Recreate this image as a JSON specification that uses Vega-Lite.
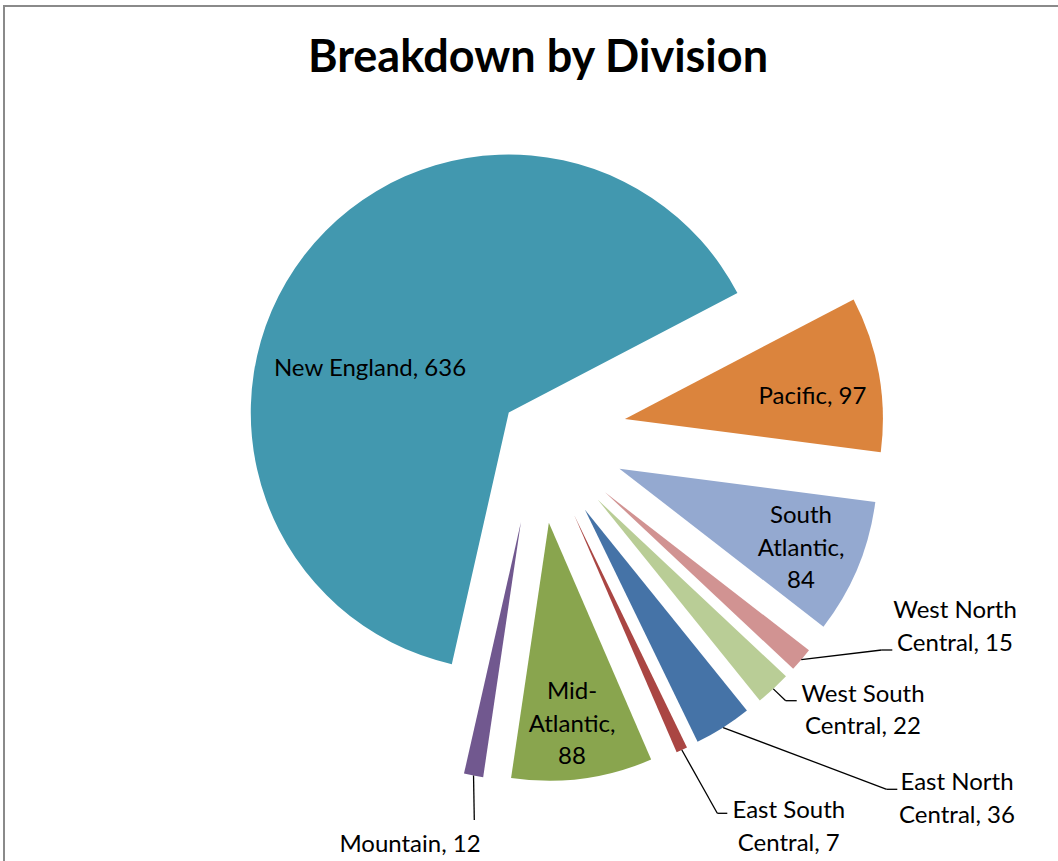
{
  "$schema": "https://vega.github.io/schema/vega-lite/v6.json",
  "width": 1060,
  "height": 860,
  "autosize": "none",
  "padding": {"left": 4, "top": 6, "right": 0, "bottom": 0},
  "background": "white",
  "config": {"view": {"stroke": "#8a8a8a", "strokeWidth": 2}},
  "title": {"text": "Breakdown by Division", "font": "Lato", "fontSize": 45, "fontWeight": "bold", "color": "black", "anchor": "middle", "baseline": "alphabetic", "offset": -111, "dx": 4},
  "data": {"values": [
    {"division": "East North Central", "value": 36},
    {"division": "East South Central", "value": 7},
    {"division": "Mid-Atlantic", "value": 88},
    {"division": "Mountain", "value": 12},
    {"division": "New England", "value": 636},
    {"division": "Pacific", "value": 97},
    {"division": "South Atlantic", "value": 84},
    {"division": "West North Central", "value": 15},
    {"division": "West South Central", "value": 22}
  ]},
  "transform": [
    {"joinaggregate": [{"op": "sum", "field": "value", "as": "total"}]},
    {"window": [{"op": "sum", "field": "value", "as": "cum"}], "sort": [{"field": "division", "order": "ascending"}], "frame": [null, 0]},
    {"calculate": "2.4630 + 2 * PI * (datum.cum - datum.value) / datum.total", "as": "a0"},
    {"calculate": "2.4630 + 2 * PI * datum.cum / datum.total", "as": "a1"},
    {"calculate": "(datum.a0 + datum.a1) / 2", "as": "mid"},
    {"calculate": "datum.division === 'New England' ? 36 : 89", "as": "explode"},
    {"calculate": "datum.explode * sin(datum.mid)", "as": "cx"},
    {"calculate": "-datum.explode * cos(datum.mid)", "as": "cy"},
    {"calculate": "datum.cx + 258 * sin(datum.mid)", "as": "edgeX"},
    {"calculate": "datum.cy - 258 * cos(datum.mid)", "as": "edgeY"},
    {"calculate": "replace(replace(replace(datum.division + ', ' + datum.value, ' Central', '\\nCentral'), 'South Atlantic, ', 'South\\nAtlantic,\\n'), 'Mid-Atlantic, ', 'Mid-\\nAtlantic,\\n')", "as": "lab"},
    {"calculate": "{'East North Central': 419.7, 'East South Central': 251.5, 'Mid-Atlantic': 34.7, 'Mountain': -127.3, 'New England': -167.3, 'Pacific': 275.2, 'South Atlantic': 263.7, 'West North Central': 417.7, 'West South Central': 325.7}[datum.division]", "as": "lx"},
    {"calculate": "{'East North Central': 355.5, 'East South Central': 383.8, 'Mid-Atlantic': 264.5, 'Mountain': 417.2, 'New England': -58.5, 'Pacific': -30.5, 'South Atlantic': 88.5, 'West North Central': 183.8, 'West South Central': 267.2}[datum.division]", "as": "ly"},
    {"calculate": "{'East North Central': 349.4, 'East South Central': 180, 'Mountain': -63, 'West North Central': 344.4, 'West South Central': 248.4}[datum.division]", "as": "elbowX"},
    {"calculate": "{'East North Central': 354.8, 'East South Central': 378.8, 'Mountain': 385.5, 'West North Central': 215.5, 'West South Central': 266.2}[datum.division]", "as": "elbowY"},
    {"calculate": "{'East North Central': 360, 'East South Central': 190, 'Mountain': -63, 'West North Central': 355, 'West South Central': 259.4}[datum.division]", "as": "endX"}
  ],
  "layer": [
    {
      "mark": {"type": "arc", "radius": 258},
      "encoding": {
        "theta": {"field": "a0", "type": "quantitative", "scale": null, "stack": null},
        "theta2": {"field": "a1"},
        "x": {"field": "cx", "type": "quantitative", "scale": {"domain": [-533.3, 526.7], "nice": false, "zero": false}, "axis": null},
        "y": {"field": "cy", "type": "quantitative", "scale": {"domain": [-428.5, 431.5], "reverse": true, "nice": false, "zero": false}, "axis": null},
        "color": {"field": "division", "type": "nominal", "legend": null,
          "scale": {"domain": ["East North Central", "East South Central", "Mid-Atlantic", "Mountain", "New England", "Pacific", "South Atlantic", "West North Central", "West South Central"],
                    "range": ["#4573A7", "#AA4643", "#89A54E", "#71588F", "#4298AF", "#DB843D", "#94A9D0", "#D19392", "#B9CD96"]}}
      }
    },
    {
      "transform": [{"filter": "isValid(datum.elbowX)"}],
      "mark": {"type": "rule", "color": "black", "strokeWidth": 1.3},
      "encoding": {
        "x": {"field": "edgeX", "type": "quantitative", "scale": {"domain": [-533.3, 526.7], "nice": false, "zero": false}, "axis": null},
        "y": {"field": "edgeY", "type": "quantitative", "scale": {"domain": [-428.5, 431.5], "reverse": true, "nice": false, "zero": false}, "axis": null},
        "x2": {"field": "elbowX"},
        "y2": {"field": "elbowY"}
      }
    },
    {
      "transform": [{"filter": "isValid(datum.elbowX)"}],
      "mark": {"type": "rule", "color": "black", "strokeWidth": 1.3},
      "encoding": {
        "x": {"field": "elbowX", "type": "quantitative", "scale": {"domain": [-533.3, 526.7], "nice": false, "zero": false}, "axis": null},
        "y": {"field": "elbowY", "type": "quantitative", "scale": {"domain": [-428.5, 431.5], "reverse": true, "nice": false, "zero": false}, "axis": null},
        "x2": {"field": "endX"},
        "y2": {"field": "elbowY"}
      }
    },
    {
      "mark": {"type": "text", "font": "Lato", "fontSize": 24, "lineHeight": 32.5, "lineBreak": "\n", "align": "center", "baseline": "alphabetic", "color": "black"},
      "encoding": {
        "x": {"field": "lx", "type": "quantitative", "scale": {"domain": [-533.3, 526.7], "nice": false, "zero": false}, "axis": null},
        "y": {"field": "ly", "type": "quantitative", "scale": {"domain": [-428.5, 431.5], "reverse": true, "nice": false, "zero": false}, "axis": null},
        "text": {"field": "lab", "type": "nominal"}
      }
    }
  ]
}
